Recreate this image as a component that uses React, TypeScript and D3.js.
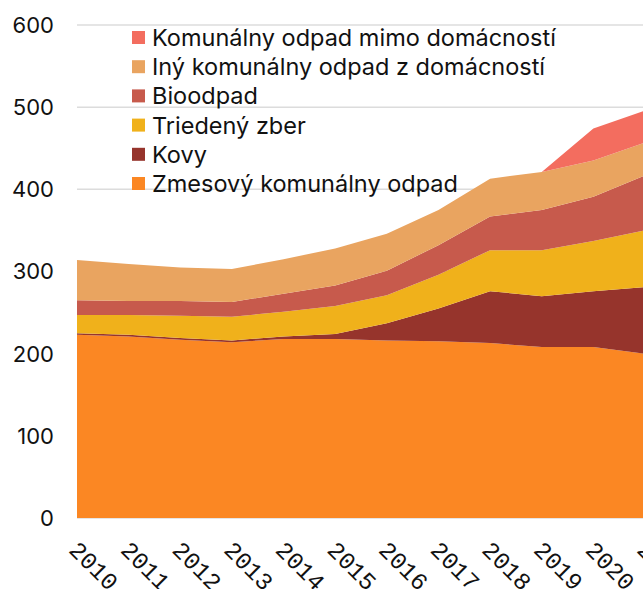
import React from "react";
import * as d3 from "d3";

const width = 643;
const height = 589;

const years = [2010, 2011, 2012, 2013, 2014, 2015, 2016, 2017, 2018, 2019, 2020, 2021];

// per-capita municipal waste by stream (kg)
const zmesovy = [223, 221, 217, 214, 218, 218, 216, 215, 213, 208, 208, 200];
const kovy = [2, 2, 2, 2, 3, 6, 21, 40, 63, 62, 68, 81];
const triedeny = [22, 24, 27, 29, 30, 34, 34, 41, 50, 56, 61, 69];
const bioodpad = [18, 17, 18, 18, 22, 25, 30, 36, 41, 49, 54, 67];
const inyKomunalny = [49, 45, 41, 40, 42, 45, 45, 43, 46, 46, 44, 40];
const mimoDomacnosti = [0, 0, 0, 0, 0, 0, 0, 0, 0, 0, 39, 39];

const seriesKeys = ["zmes", "kovy", "tried", "bio", "iny", "mimo"];
const seriesLabels = [
  "Zmesový komunálny odpad",
  "Kovy",
  "Triedený zber",
  "Bioodpad",
  "Iný komunálny odpad z domácností",
  "Komunálny odpad mimo domácností",
];
const seriesColors = ["#fb8723", "#96342c", "#f0b11b", "#c75a4c", "#e9a460", "#f36d5f"];
const seriesValues = [zmesovy, kovy, triedeny, bioodpad, inyKomunalny, mimoDomacnosti];

const yTicks = [0, 100, 200, 300, 400, 500, 600];

const rows = years.map((year, i) => {
  const row: any = { year };
  seriesKeys.forEach((k, j) => (row[k] = seriesValues[j][i]));
  return row;
});

export default function App() {
  const x = d3.scaleLinear().domain([2010, 2021]).range([77, 645]);
  const y = d3.scaleLinear().domain([0, 600]).range([518, 25]);

  const stacked = d3.stack<any>().keys(seriesKeys)(rows);
  const area = d3
    .area<any>()
    .x((d) => x(d.data.year))
    .y0((d) => y(d[0]))
    .y1((d) => y(d[1]));

  // legend is listed top-down in reverse stacking order
  const legendOrder = d3.range(seriesKeys.length).reverse();

  return (
    <svg
      width={width}
      height={height}
      style={{ position: "absolute", left: 0, top: 0, overflow: "hidden" }}
    >
      <rect width={width} height={height} fill="#fff" />
      {yTicks.map((t) => (
        <g key={t}>
          <line x1={77} x2={width} y1={y(t)} y2={y(t)} stroke="#dcdcdc" strokeWidth={1.5} />
          <text
            x={54}
            y={y(t)}
            dy="0.36em"
            textAnchor="end"
            fontFamily="Inter, Roboto, sans-serif"
            fontSize={22}
            fill="#111"
          >
            {t}
          </text>
        </g>
      ))}
      {stacked.map((s, i) => (
        <path key={s.key} d={area(s) || ""} fill={seriesColors[i]} />
      ))}
      {legendOrder.map((i, row) => {
        const cy = 37.5 + row * 29.2;
        return (
          <g key={seriesKeys[i]}>
            <rect x={132} y={cy - 6.5} width={13} height={13} fill={seriesColors[i]} />
            <text
              x={152}
              y={cy}
              dy="0.36em"
              fontFamily="Inter, Roboto, sans-serif"
              fontSize={23.5}
              fill="#111"
            >
              {seriesLabels[i]}
            </text>
          </g>
        );
      })}
      {years.map((yr) => (
        <text
          key={yr}
          transform={`translate(${x(yr) + 3},${539}) rotate(45)`}
          dy="0.72em"
          fontFamily="'Liberation Mono', 'DejaVu Sans Mono', monospace"
          fontSize={24}
          fill="#111"
        >
          {yr}
        </text>
      ))}
    </svg>
  );
}
